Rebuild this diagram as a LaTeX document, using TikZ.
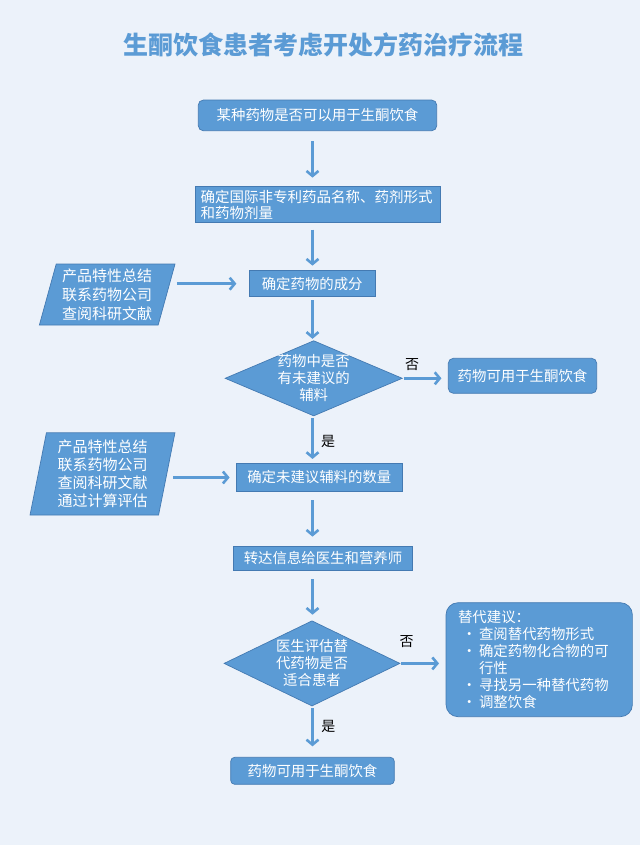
\documentclass[tikz,border=0pt]{standalone}
\usepackage{fontspec}
\setmainfont{Noto Sans CJK SC}
\usetikzlibrary{shapes.geometric,arrows.meta}

\definecolor{boxblue}{RGB}{91,155,213}
\definecolor{edgeblue}{RGB}{68,122,178}
\definecolor{paper}{RGB}{236,242,250}

\newcommand{\altbullet}{\makebox[21pt][l]{\hspace{4pt}•}}

\begin{document}
\begin{tikzpicture}[x=1pt,y=-1pt,
  box/.style={draw=edgeblue,line width=0.7pt,fill=boxblue,text=white,inner sep=0pt,
    font=\fontsize{14.4}{17}\selectfont},
  rbox/.style={box,rounded corners=5pt},
  choice/.style={box,diamond,inner sep=-4pt,align=center},
  source/.style={box,trapezium,trapezium stretches=true,align=center},
  flow/.style={draw=boxblue,line width=2.6pt,-{Straight Barb[length=5pt,width=12pt]}},
  answer/.style={font=\fontsize{14}{16}\selectfont,text=black}]

% page
\fill[paper] (0,0) rectangle (640,845);
\useasboundingbox (0,0) rectangle (640,845);

% title
\node[font=\fontsize{25}{30}\selectfont\bfseries,text=boxblue] (title) at (323.5,45)
  {生酮饮食患者考虑开处方药治疗流程};

% main column
\coordinate (spine) at (312.5,0);

\node[rbox,minimum width=238.4pt,minimum height=30.7pt] (start) at (317.5,115.4)
  {某种药物是否可以用于生酮饮食};
\node[box,text width=234pt,inner xsep=5.5pt,minimum height=35.6pt,align=left,
  font=\fontsize{14.5}{16}\selectfont] (inn) at (317.5,204.5)
  {确定国际非专利药品名称、药剂形式\\和药物剂量};
\node[box,minimum width=125.7pt,minimum height=26pt] (comp) at (312.2,283.7)
  {确定药物的成分};
\node[choice,aspect=2.35,minimum width=177.3pt,minimum height=75.3pt] (dia1) at (313.7,378.3)
  {药物中是否\\有未建议的\\辅料};
\node[box,minimum width=165.3pt,minimum height=28.4pt] (qty) at (319.3,477.5)
  {确定未建议辅料的数量};
\node[box,minimum width=179.4pt,minimum height=24pt] (tell) at (323,558)
  {转达信息给医生和营养师};
\node[choice,aspect=2.07,minimum width=176pt,minimum height=85.3pt] (dia2) at (312,663.4)
  {医生评估替\\代药物是否\\适合患者};
\node[rbox,rounded corners=4pt,minimum width=163.6pt,minimum height=27pt] (final) at (312.5,770.8)
  {药物可用于生酮饮食};

% side boxes
\node[source,trapezium left angle=74,trapezium right angle=106,
  minimum width=135.7pt,minimum height=61pt,font=\fontsize{15}{19}\selectfont] (src1) at (107.2,294.5)
  {产品特性总结\\联系药物公司\\查阅科研文献};
\node[source,trapezium left angle=79,trapezium right angle=101,
  minimum width=145pt,minimum height=82.3pt,font=\fontsize{15}{18}\selectfont] (src2) at (102.5,473.9)
  {产品特性总结\\联系药物公司\\查阅科研文献\\通过计算评估};
\node[rbox,minimum width=148.4pt,minimum height=35pt] (okdrug) at (522.5,375.8)
  {药物可用于生酮饮食};
\node[rbox,rounded corners=12pt,text width=162.3pt,inner xsep=12pt,minimum height=114pt,
  align=left] (alt) at (539.2,659.7)
  {替代建议：\\
   \altbullet 查阅替代药物形式\\
   \altbullet 确定药物化合物的可\\
   \hspace*{21pt}行性\\
   \altbullet 寻找另一种替代药物\\
   \altbullet 调整饮食};

% -------- vertical arrows --------
\draw[flow,shorten <=10pt,shorten >=8.7pt] (start.south -| spine) -- (inn.north -| spine);
\draw[flow,shorten <=7pt,shorten >=4.7pt] (inn.south -| spine) -- (comp.north -| spine);
\draw[flow,shorten <=3pt,shorten >=1.5pt] (comp.south -| spine) -- (dia1.north -| spine);
\draw[flow,shorten <=2pt,shorten >=4pt] (dia1.south -| spine) -- (qty.north -| spine);
\draw[flow,shorten <=8pt,shorten >=9pt] (qty.south -| spine) -- (tell.north -| spine);
\draw[flow,shorten <=9pt,shorten >=5.7pt] (tell.south -| spine) -- (dia2.north -| spine);
\draw[flow,shorten <=2pt,shorten >=10.6pt] (dia2.south -| spine) -- (final.north -| spine);

% -------- side arrows --------
\draw[flow,shorten <=10pt,shorten >=12.6pt] (src1.east |- comp.west) -- (comp.west);
\draw[flow,shorten <=6pt,shorten >=6.7pt] (src2.east |- qty.west) -- (qty.west);
\draw[flow,shorten <=1pt,shorten >=6.5pt] (dia1.east) -- (dia1.east -| okdrug.west);
\draw[flow,shorten <=1pt,shorten >=6.7pt] (dia2.east) -- (dia2.east -| alt.west);

% answers
\node[answer] (no1) at (412,365) {否};
\node[answer] (yes1) at (328,441.7) {是};
\node[answer] (no2) at (406.7,641.7) {否};
\node[answer] (yes2) at (328.3,726) {是};

\end{tikzpicture}
\end{document}
